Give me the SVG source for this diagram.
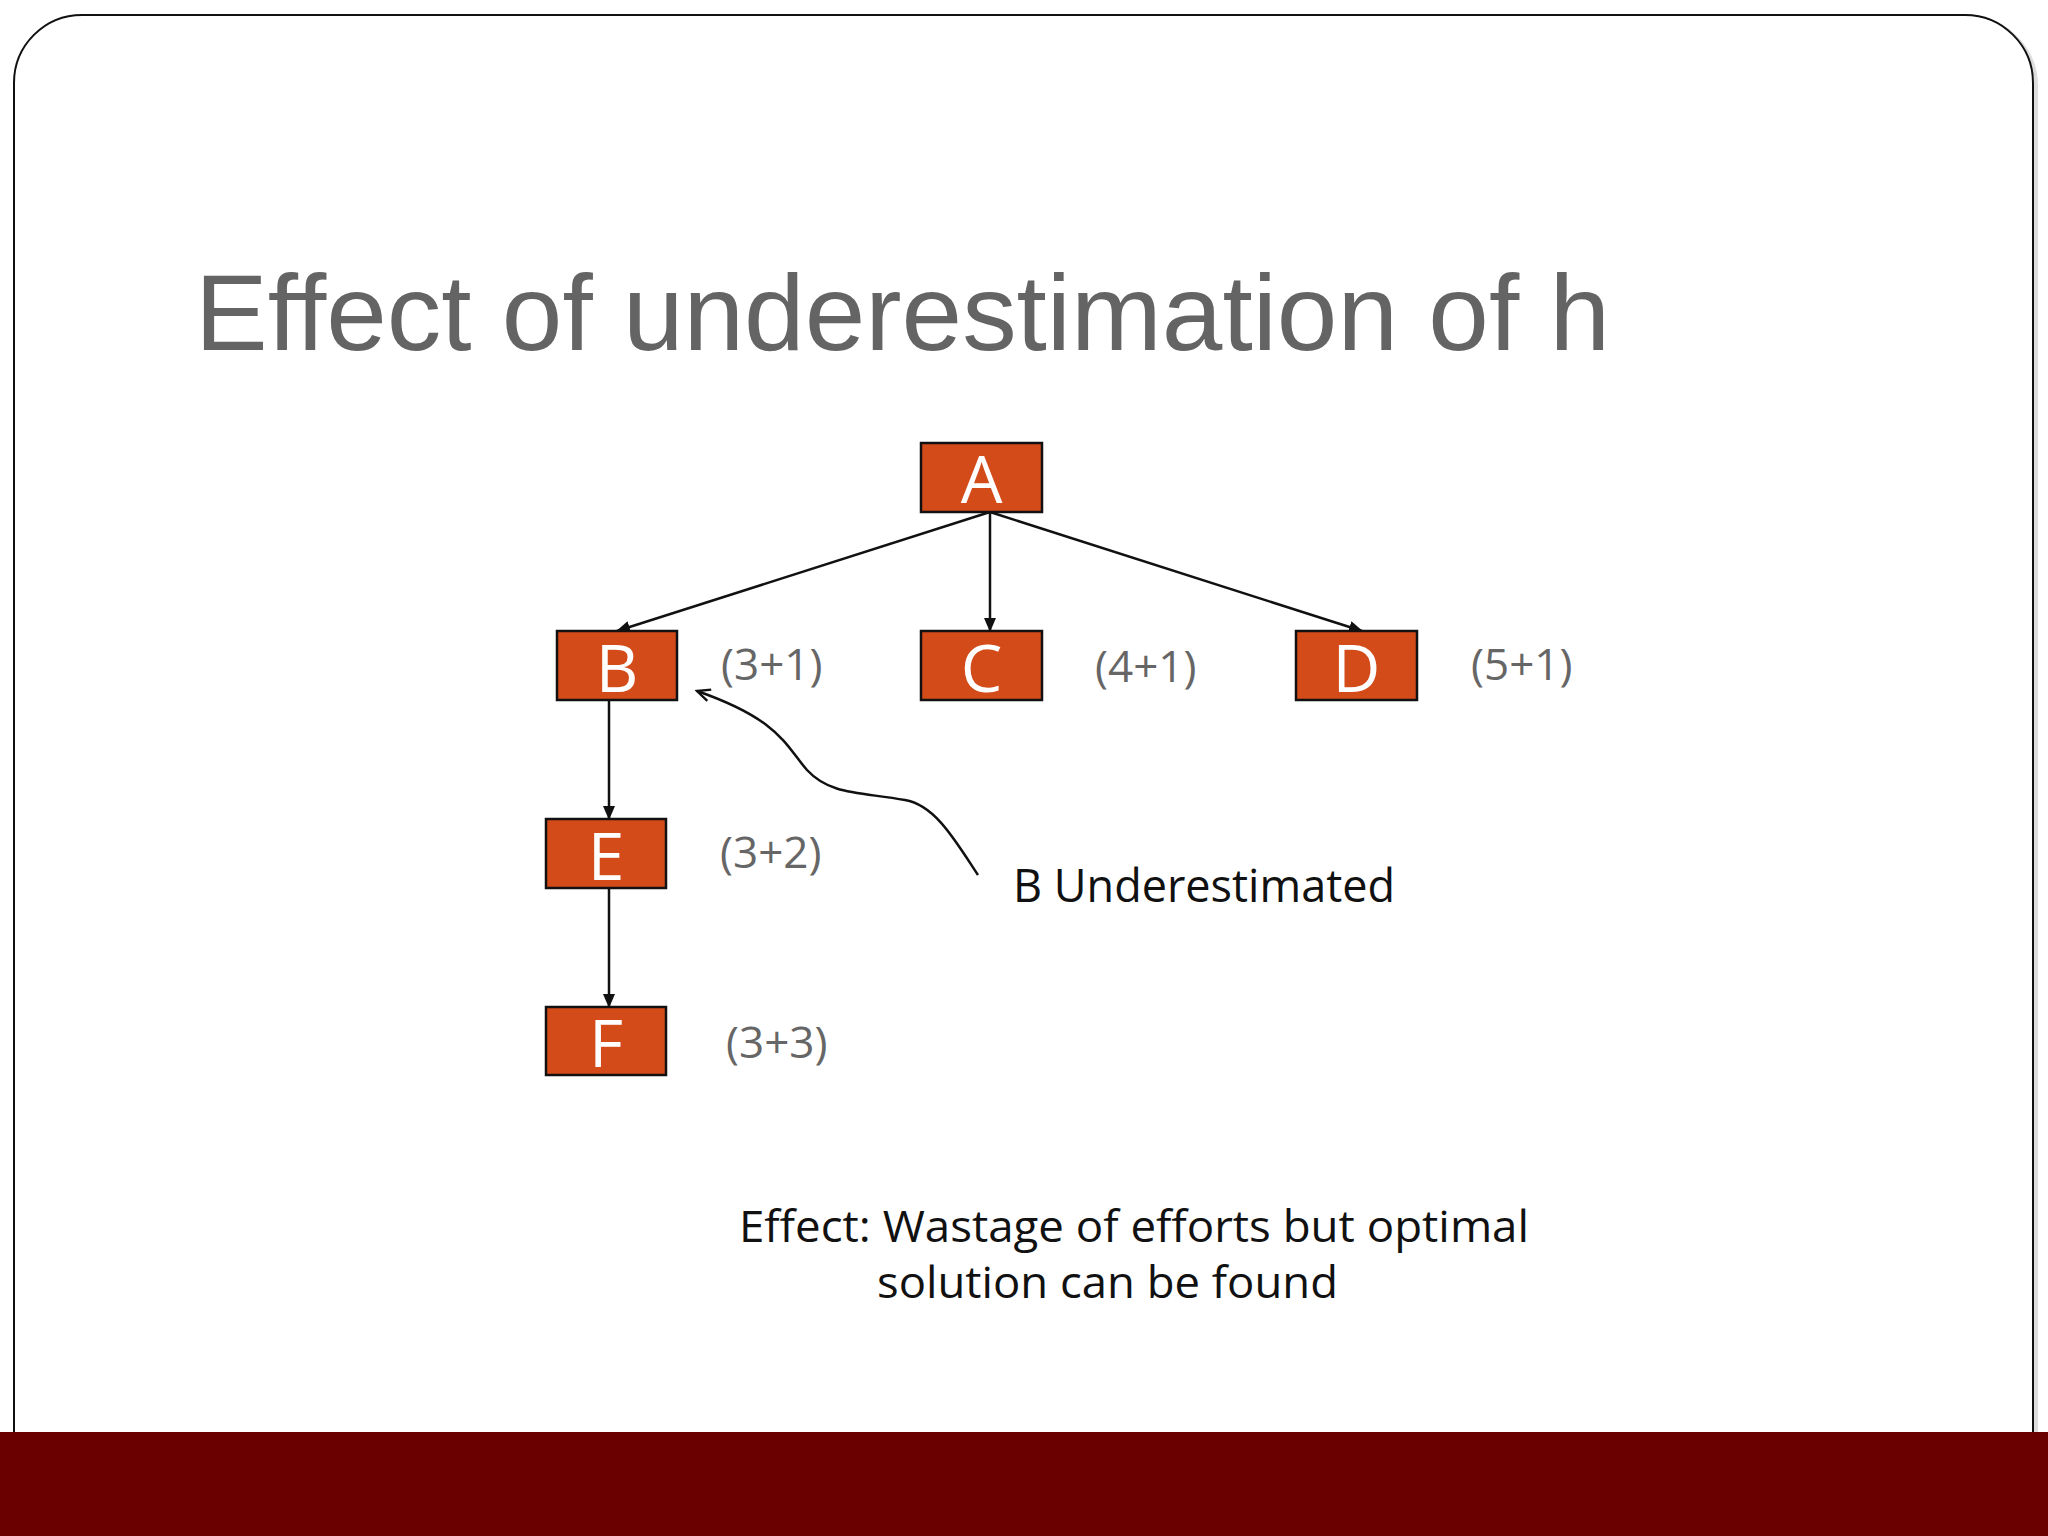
<svg xmlns="http://www.w3.org/2000/svg" width="2048" height="1536" viewBox="0 0 2048 1536">
<defs>
<style>
.box{fill:#D44B1A;stroke:#111;stroke-width:2.5}
.lbl{font-family:"Open Sans","Noto Sans",sans-serif;fill:#fff;font-size:66px;text-anchor:middle}
.val{font-family:"Open Sans","Noto Sans",sans-serif;fill:#666;font-size:44px}
.txt{font-family:"Open Sans","Noto Sans",sans-serif;fill:#111}
.edge{stroke:#111;stroke-width:2.5;fill:none}
</style>
<marker id="ah" markerWidth="14" markerHeight="12" refX="13" refY="6" orient="auto" markerUnits="userSpaceOnUse">
<path d="M0,0 L14,6 L0,12 Z" fill="#111"/>
</marker>
<marker id="oh" markerWidth="16" markerHeight="14" refX="14" refY="7" orient="auto" markerUnits="userSpaceOnUse">
<path d="M1,1 L14,7 L1,13" fill="none" stroke="#111" stroke-width="2.4"/>
</marker>
</defs>
<rect width="2048" height="1536" fill="#fff"/>
<g id="frame">
<rect x="17" y="18" width="2019" height="1500" rx="68" ry="68" fill="none" stroke="#ddd" stroke-width="4"/>
<rect x="14" y="15" width="2019" height="1500" rx="68" ry="68" fill="#fff" stroke="#111" stroke-width="2"/>
<rect x="0" y="1432" width="2048" height="104" fill="#6B0000"/>
</g>
<text id="title" x="195" y="350" font-family="Liberation Sans, Arial, sans-serif" font-size="108" fill="#646464" textLength="1415" lengthAdjust="spacingAndGlyphs" style="font-variant-ligatures:none">Effect of underestimation of h</text>
<g id="connectors">
<line class="edge" x1="990" y1="512" x2="617" y2="631" marker-end="url(#ah)"/>
<line class="edge" x1="990" y1="512" x2="990" y2="631" marker-end="url(#ah)"/>
<line class="edge" x1="990" y1="512" x2="1362" y2="631" marker-end="url(#ah)"/>
<line class="edge" x1="609" y1="700" x2="609" y2="819" marker-end="url(#ah)"/>
<line class="edge" x1="609" y1="888" x2="609" y2="1007" marker-end="url(#ah)"/>
<path class="edge" d="M 978 875 C 955 840, 935 805, 905 800 C 860 792, 830 795, 807 770 C 785 745, 780 720, 697 691" marker-end="url(#oh)"/>
</g>
<g id="node-A"><rect class="box" x="921" y="443" width="121" height="69"/><text class="lbl" x="981.5" y="503">A</text></g>
<g id="node-B"><rect class="box" x="557" y="631" width="120" height="69"/><text class="lbl" x="617" y="692">B</text></g>
<g id="node-C"><rect class="box" x="921" y="631" width="121" height="69"/><text class="lbl" x="981.5" y="692">C</text></g>
<g id="node-D"><rect class="box" x="1296" y="631" width="121" height="69"/><text class="lbl" x="1356.5" y="692">D</text></g>
<g id="node-E"><rect class="box" x="546" y="819" width="120" height="69"/><text class="lbl" x="606" y="880">E</text></g>
<g id="node-F"><rect class="box" x="546" y="1007" width="120" height="68"/><text class="lbl" x="606" y="1067">F</text></g>
<g id="values">
<text class="val" x="721" y="680">(3+1)</text>
<text class="val" x="1095" y="682">(4+1)</text>
<text class="val" x="1471" y="680">(5+1)</text>
<text class="val" x="720" y="868">(3+2)</text>
<text class="val" x="726" y="1058">(3+3)</text>
</g>
<text id="note" class="txt" x="1013" y="902" font-size="45">B Underestimated</text>
<g id="effect">
<text class="txt" x="739" y="1242" font-size="43" textLength="790" lengthAdjust="spacingAndGlyphs">Effect: Wastage of efforts but optimal</text>
<text class="txt" x="877" y="1298" font-size="43" textLength="461" lengthAdjust="spacingAndGlyphs">solution can be found</text>
</g>
</svg>
